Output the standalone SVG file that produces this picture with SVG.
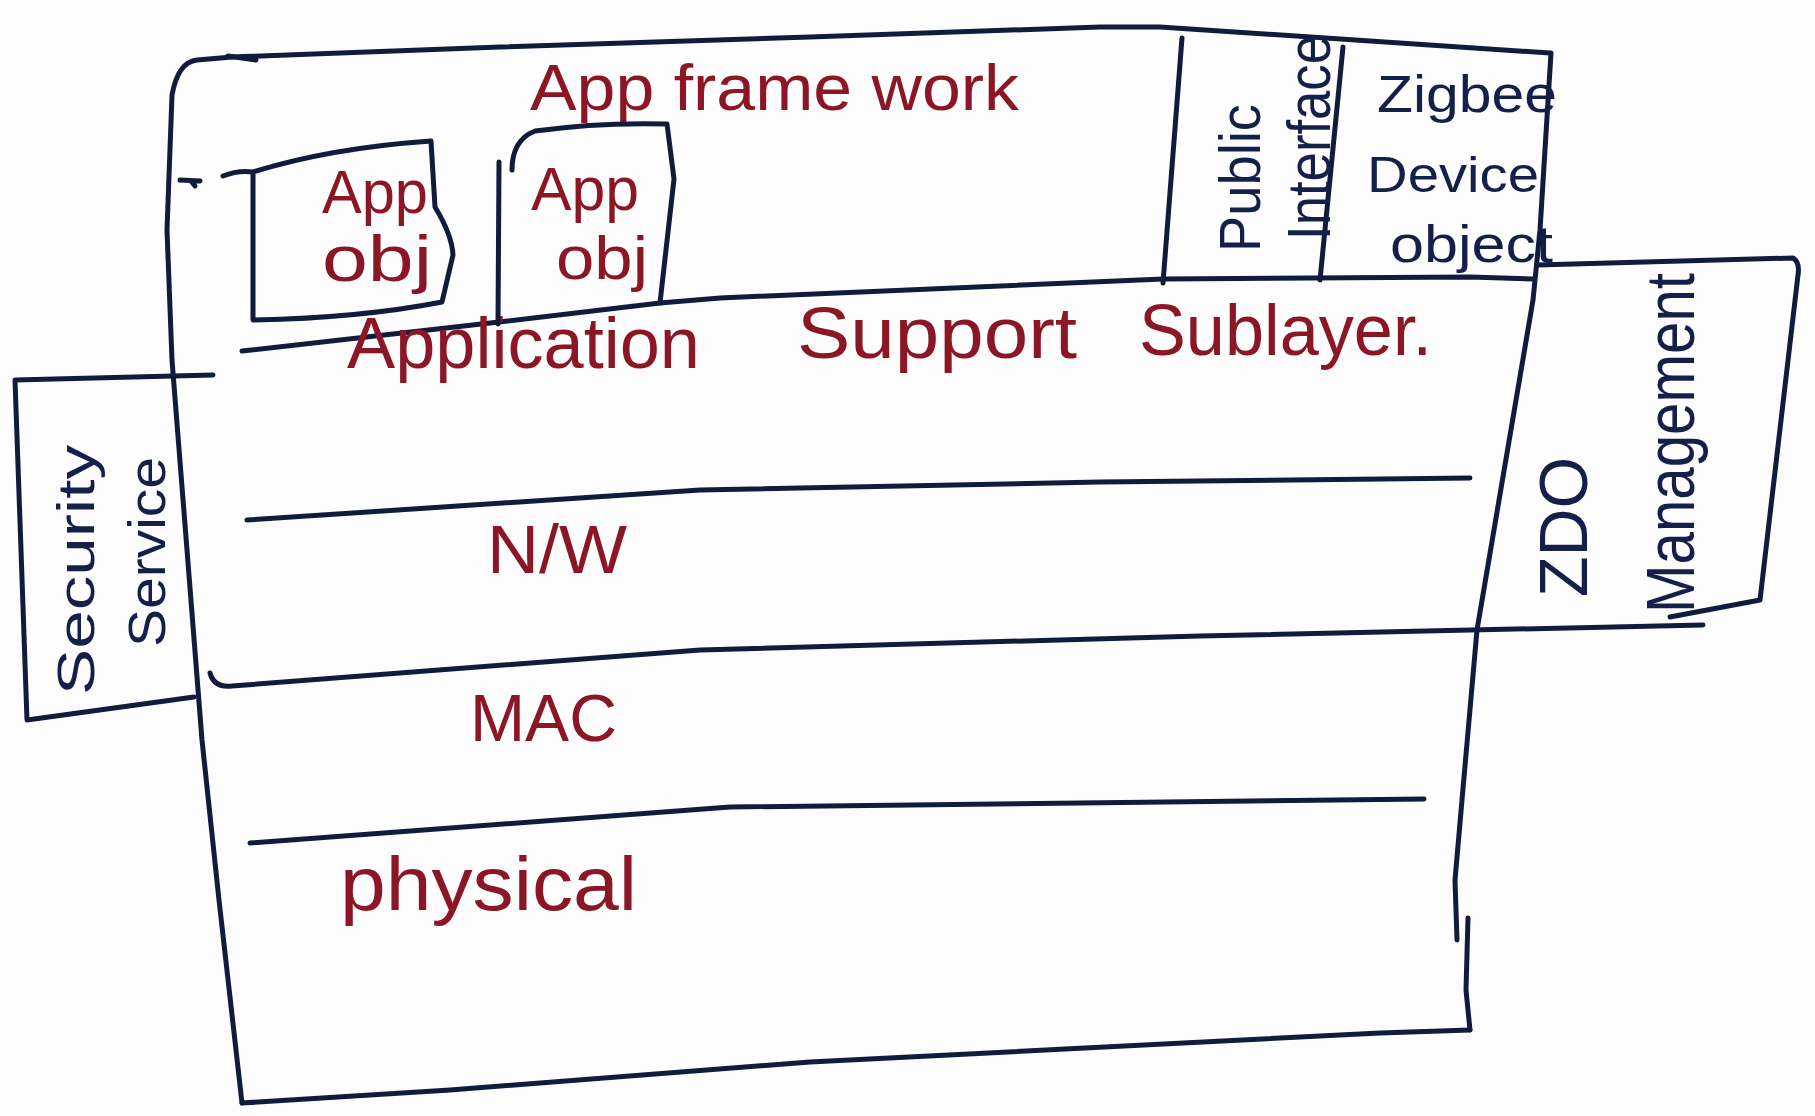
<svg xmlns="http://www.w3.org/2000/svg" width="1815" height="1116" viewBox="0 0 1815 1116">
  <style>
    .ink { fill: none; stroke: #111b3c; stroke-width: 5; stroke-linecap: round; stroke-linejoin: round; }
    .red { font-family: "Liberation Sans", "DejaVu Sans", sans-serif; fill: #8a1626; }
    .blue { font-family: "Liberation Sans", "DejaVu Sans", sans-serif; fill: #14204a; }
  </style>
  <rect x="0" y="0" width="1815" height="1116" fill="#fdfdfd"/>

  <!-- Main stack box -->
  <g id="zigbee-stack">
    <path class="ink" d="M232,57 L500,47 L810,37 L1100,27 L1160,27 L1550,53"/>
    <path class="ink" d="M232,57 L197,60 Q178,62 172,95 L167,230 L172,360 L202,740 L219,900 L242,1103"/>
    <path class="ink" d="M242,1103 L450,1090 L810,1062 L1380,1033 L1470,1030"/>
    <path class="ink" d="M1551,53 L1540,230 L1533,300 L1477,630 L1462,800 L1455,880 L1457,940"/>
    <path class="ink" d="M1468,918 L1466,990 L1470,1030" stroke-width="7"/>
    <path class="ink" d="M228,56 L256,60" stroke-width="9"/>
    <path class="ink" d="M180,180 L200,181 M191,181 L195,186" stroke-width="4"/>
  </g>

  <!-- Layer dividing lines -->
  <g id="connectors">
    <path class="ink" d="M242,351 L499,322 L660,303 L720,298 L1163,279 L1470,277 L1533,279"/>
    <path class="ink" d="M247,520 L700,490 L1100,482 L1470,478"/>
    <path class="ink" d="M210,673 Q214,688 232,686 L700,650 L1200,636 L1703,625"/>
    <path class="ink" d="M250,843 L730,807 L1424,799"/>
    <path class="ink" d="M1182,38 L1163,283"/>
    <path class="ink" d="M1343,47 L1320,280"/>
  </g>

  <!-- Layer labels -->
  <g id="app-framework">
    <text class="red" x="530" y="110" font-size="64" textLength="489" lengthAdjust="spacingAndGlyphs">App frame work</text>
  </g>
  <g id="aps-layer">
    <text class="red" x="347" y="368" font-size="72" textLength="353" lengthAdjust="spacingAndGlyphs">Application</text>
    <text class="red" x="797" y="358" font-size="72" textLength="280" lengthAdjust="spacingAndGlyphs">Support</text>
    <text class="red" x="1139" y="355" font-size="72" textLength="293" lengthAdjust="spacingAndGlyphs">Sublayer.</text>
  </g>
  <g id="nwk-layer">
    <text class="red" x="487" y="573" font-size="68" textLength="140" lengthAdjust="spacingAndGlyphs">N/W</text>
  </g>
  <g id="mac-layer">
    <text class="red" x="470" y="741" font-size="66" textLength="147" lengthAdjust="spacingAndGlyphs">MAC</text>
  </g>
  <g id="phy-layer">
    <text class="red" x="340" y="910" font-size="76" textLength="297" lengthAdjust="spacingAndGlyphs">physical</text>
  </g>

  <!-- App object 1 -->
  <g id="app-obj-1">
    <path class="ink" d="M223,176 Q238,170 253,172 Q330,148 431,141 L435,207 Q452,235 453,255 L442,302 Q360,318 253,320 L253,172"/>
    <text class="red" x="322" y="213" font-size="62" textLength="106" lengthAdjust="spacingAndGlyphs">App</text>
    <text class="red" x="322" y="281" font-size="64" textLength="110" lengthAdjust="spacingAndGlyphs">obj</text>
  </g>

  <!-- App object 2 -->
  <g id="app-obj-2">
    <path class="ink" d="M499,162 L498,324"/>
    <path class="ink" d="M512,170 Q512,140 535,131 Q600,122 667,124 L674,179 L660,303"/>
    <text class="red" x="531" y="210" font-size="62" textLength="108" lengthAdjust="spacingAndGlyphs">App</text>
    <text class="red" x="556" y="279" font-size="62" textLength="92" lengthAdjust="spacingAndGlyphs">obj</text>
  </g>

  <!-- Public Interface -->
  <g id="public-interface">
    <text class="blue" transform="translate(1260,252) rotate(-90)" font-size="58" textLength="148" lengthAdjust="spacingAndGlyphs">Public</text>
    <text class="blue" transform="translate(1330,240) rotate(-90)" font-size="62" textLength="205" lengthAdjust="spacingAndGlyphs">Interface</text>
  </g>

  <!-- Zigbee Device Object -->
  <g id="zigbee-device-object">
    <text class="blue" x="1377" y="112" font-size="52" textLength="180" lengthAdjust="spacingAndGlyphs">Zigbee</text>
    <text class="blue" x="1367" y="192" font-size="50" textLength="172" lengthAdjust="spacingAndGlyphs">Device</text>
    <text class="blue" x="1390" y="262" font-size="52" textLength="163" lengthAdjust="spacingAndGlyphs">object</text>
  </g>

  <!-- Security Service -->
  <g id="security-service">
    <path class="ink" d="M213,375 L15,380 L27,720 L194,697"/>
    <text class="blue" transform="translate(94,695) rotate(-90)" font-size="52" textLength="250" lengthAdjust="spacingAndGlyphs">Security</text>
    <text class="blue" transform="translate(165,647) rotate(-90)" font-size="52" textLength="190" lengthAdjust="spacingAndGlyphs">Service</text>
  </g>

  <!-- ZDO Management -->
  <g id="zdo-management">
    <path class="ink" d="M1537,265 L1793,258 Q1800,262 1798,275 L1760,600 L1670,617"/>
    <text class="blue" transform="translate(1587,597) rotate(-90)" font-size="68" textLength="140" lengthAdjust="spacingAndGlyphs">ZDO</text>
    <text class="blue" transform="translate(1694,613) rotate(-90)" font-size="68" textLength="340" lengthAdjust="spacingAndGlyphs">Management</text>
  </g>
</svg>
